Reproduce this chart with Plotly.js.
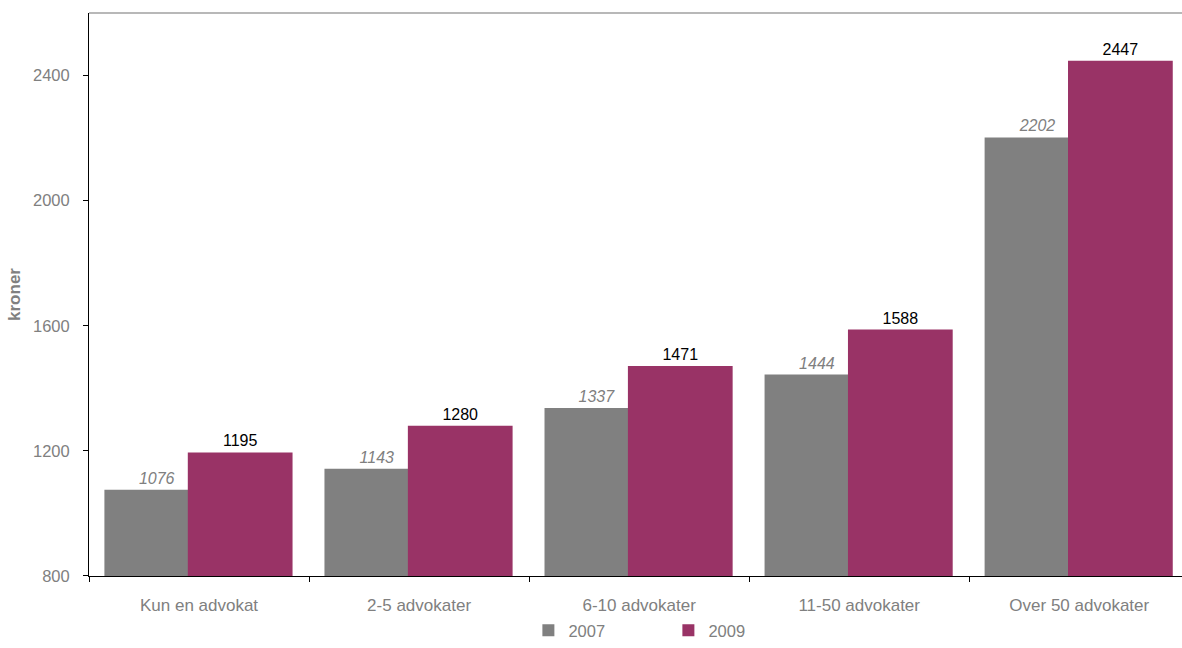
<!DOCTYPE html>
<html>
<head>
<meta charset="utf-8">
<script src="https://cdn.plot.ly/plotly-3.0.1.min.js"></script>
<style>html,body{margin:0;padding:0;background:#fff;}#chart{width:1182px;height:648px;}</style>
</head>
<body>
<div id="chart"></div>
<script>
const categories = ["Kun en advokat", "2-5 advokater", "6-10 advokater", "11-50 advokater", "Over 50 advokater"];
const values2007 = [1076, 1143, 1337, 1444, 2202];
const values2009 = [1195, 1280, 1471, 1588, 2447];
const seriesNames = ["2007", "2009"];
const yTickValues = [800, 1200, 1600, 2000, 2400];

const font = "Liberation Sans, Arial, sans-serif";
const gray = "#808080";
const purple = "#993366";
const xRange = [-0.5, 4.467];
const yRange = [800, 2600];

const traces = [
  {
    type: "bar", name: seriesNames[0], x: categories, y: values2007,
    marker: {color: gray}, width: 0.476, offset: -0.43,
    text: values2007.map(String), textposition: "outside", cliponaxis: false,
    textfont: {family: font, size: 16, color: gray, style: "italic"},
    hoverinfo: "x+y"
  },
  {
    type: "bar", name: seriesNames[1], x: categories, y: values2009,
    marker: {color: purple}, width: 0.476, offset: -0.051,
    text: values2009.map(String), textposition: "outside", cliponaxis: false,
    textfont: {family: font, size: 16, color: "#000000"},
    hoverinfo: "x+y"
  }
];

const layout = {
  width: 1182, height: 648,
  margin: {l: 89, r: 0, t: 13, b: 0},
  paper_bgcolor: "#ffffff", plot_bgcolor: "#ffffff",
  barmode: "overlay",
  font: {family: font, size: 16, color: gray},
  showlegend: true,
  legend: {
    orientation: "h", x: 0.402, xanchor: "left", y: 0, yanchor: "bottom",
    bgcolor: "rgba(0,0,0,0)",
    font: {family: font, size: 16.5, color: gray},
    entrywidth: 95, itemwidth: 30, traceorder: "normal"
  },
  xaxis: {
    type: "category", categoryarray: categories, range: xRange, anchor: "y",
    showline: true, linecolor: "#000000", linewidth: 1,
    ticks: "outside", ticklen: 5, tickcolor: "#000000", tickwidth: 1,
    tickson: "boundaries", showgrid: false, zeroline: false,
    ticklabelstandoff: 14,
    tickfont: {family: font, size: 17, color: gray}
  },
  xaxis2: {
    overlaying: "x", anchor: "y", range: xRange, type: "linear", tick0: 0.5, dtick: 1,
    ticks: "inside", ticklen: 5, tickcolor: "#000000", tickwidth: 1,
    showticklabels: false, showgrid: false, zeroline: false, showline: false
  },
  yaxis: {
    range: yRange, tickvals: yTickValues, domain: [0.1134, 1],
    showline: true, linecolor: "#000000", linewidth: 1,
    ticks: "outside", ticklen: 5, tickcolor: "#000000", tickwidth: 1,
    showgrid: false, zeroline: false, ticklabelstandoff: 10,
    tickfont: {family: font, size: 16.5, color: gray},
    title: {text: "kroner", font: {family: font, size: 17, color: gray, weight: "bold"}, standoff: 8}
  },
  yaxis2: {
    overlaying: "y", range: yRange, tickvals: yTickValues,
    ticks: "inside", ticklen: 5, tickcolor: "#000000", tickwidth: 1,
    showticklabels: false, showgrid: false, zeroline: false, showline: false
  },
  shapes: [
    {type: "line", xref: "paper", yref: "paper", x0: 0, x1: 1, y0: 1, y1: 1,
     line: {color: "#a0a0a0", width: 1.5}}
  ]
};

Plotly.newPlot("chart", traces, layout, {displayModeBar: false, staticPlot: true});
</script>
</body>
</html>
